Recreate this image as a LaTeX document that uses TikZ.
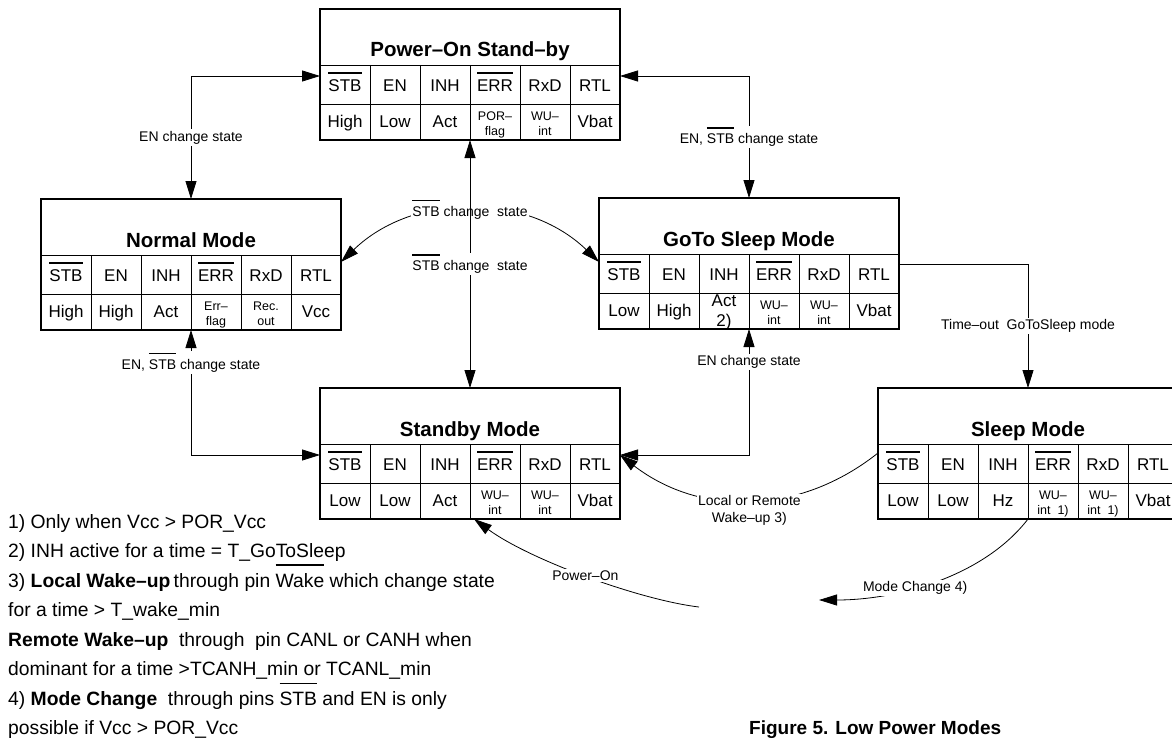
\documentclass[tikz,border=0pt]{standalone}
\usepackage{fontspec}
\setmainfont{Liberation Sans}
\usetikzlibrary{calc, arrows.meta}

% bar over a signal name
\newsavebox{\ovlbox}
\newcommand{\ovl}[1]{\sbox{\ovlbox}{#1}\rlap{\rule[\dimexpr\ht\ovlbox+0.38em\relax]{\wd\ovlbox}{0.08em}}#1}
% two-line cell entries (small / normal)
\newcommand{\sm}[2]{{\fontsize{12.5}{15}\selectfont\begin{tabular}{@{}c@{}}#1\\#2\end{tabular}}}
\newcommand{\tw}[2]{{\begin{tabular}{@{}c@{}}#1\\#2\end{tabular}}}

\tikzset{
    modebox/.style={draw, line width=1.1pt, minimum width=300pt, minimum height=131pt, inner sep=0pt, outer sep=0pt},
    gridline/.style={line width=0.9pt},
    modetitle/.style={font=\fontsize{20.5}{24}\selectfont\bfseries, anchor=base, inner sep=0pt},
    celltext/.style={font=\fontsize{17}{20}\selectfont, text height=12.5pt, text depth=3.6pt, inner sep=0pt},
    conn/.style={line width=0.8pt},
    translabel/.style={font=\fontsize{14}{17}\selectfont, fill=white, inner sep=1.5pt, align=center},
    notes/.style={font=\fontsize{19.3}{29.5}\selectfont, align=left, inner sep=0pt},
    figcaption/.style={font=\fontsize{19}{23}\selectfont\bfseries, inner sep=0pt},
    >={Triangle[length=18pt,width=11pt]}
}

% #1 name, #2 centre, #3 title, #4-#9 second row
\newcommand{\drawmode}[9]{%
    \node[modebox] (#1) at (#2) {};
    \draw[gridline] ($(#1.north west)+(0,-56)$) -- ($(#1.north east)+(0,-56)$);
    \draw[gridline] ($(#1.north west)+(0,-95)$) -- ($(#1.north east)+(0,-95)$);
    \foreach \i in {1,...,5}
        \draw[gridline] ($(#1.north west)+(50*\i,-56)$) -- ($(#1.south west)+(50*\i,0)$);
    \node[modetitle] at ($(#1.north)+(0,-48)$) {#3};
    \foreach \lbl [count=\i] in {\ovl{STB},EN,INH,\ovl{ERR},RxD,RTL}
        \node[celltext] at ($(#1.north west)+(50*\i-25,-78.5)$) {\lbl};
    \foreach \val [count=\i] in {#4,#5,#6,#7,#8,#9}
        \node[celltext] at ($(#1.north west)+(50*\i-25,-114.5)$) {\val};
}

\begin{document}
\begin{tikzpicture}[x=1pt, y=1pt]
    \useasboundingbox (0,0) rectangle (1172,-741);

    % The five modes
    \drawmode{pwr}{470,-74.5}{Power--On Stand--by}{High}{Low}{Act}{\sm{POR--}{flag}}{\sm{WU--}{int}}{Vbat}
    \drawmode{norm}{191,-264.5}{Normal Mode}{High}{High}{Act}{\sm{Err--}{flag}}{\sm{Rec.}{out}}{Vcc}
    \drawmode{gts}{749,-263.5}{GoTo Sleep Mode}{Low}{High}{\tw{Act}{2)}}{\sm{WU--}{int}}{\sm{WU--}{int}}{Vbat}
    \drawmode{stby}{470,-453.5}{Standby Mode}{Low}{Low}{Act}{\sm{WU--}{int}}{\sm{WU--}{int}}{Vbat}
    \drawmode{slp}{1028,-453.5}{Sleep Mode}{Low}{Low}{Hz}{\sm{WU--}{int~~1)}}{\sm{WU--}{int~~1)}}{Vbat}

    % Where the connectors meet the boxes
    \coordinate (pwrW) at ($(pwr.north west)+(0,-67)$);
    \coordinate (pwrE) at ($(pwr.north east)+(0,-67)$);
    \coordinate (normE) at ($(norm.north east)+(0,-63)$);
    \coordinate (gtsW) at ($(gts.north west)+(0,-64)$);
    \coordinate (gtsE) at ($(gts.north east)+(0,-66)$);
    \coordinate (stbyW) at ($(stby.north west)+(0,-67)$);
    \coordinate (stbyE) at ($(stby.north east)+(0,-67)$);
    \coordinate (stbyS) at ($(stby.south)+(4,0)$);
    \coordinate (slpW) at ($(slp.north west)+(0,-65)$);
    \coordinate (ponstart) at (699,-607);
    \coordinate (mcend) at (819,-600);

    % Transitions
    \draw[conn, <->] (norm.north) |- node[translabel, pos=0.25] {EN change state} (pwrW);
    \draw[conn, <->] (pwrE) -| node[translabel, pos=0.75] {EN, \ovl{STB} change state} (gts.north);
    \draw[conn, <->] (normE) to[bend left=44] node[translabel] {\ovl{STB} change\ \ state} (gtsW);
    \draw[conn, <->] (pwr.south) -- node[translabel] {\ovl{STB} change\ \ state} (stby.north);
    \draw[conn, <->] (norm.south) |- node[translabel, pos=0.13] {EN, \ovl{STB} change state} (stbyW);
    \draw[conn, <->] (gts.south) |- node[translabel, pos=0.13] {EN change state} (stbyE);
    \draw[conn, ->] (gtsE) -| node[translabel, pos=0.75] {Time--out\ \ GoToSleep mode} (slp.north);
    \draw[conn, ->] (slpW) to[bend left=38] node[translabel, yshift=-10pt] {Local or Remote\\Wake--up 3)} (stbyE);
    \draw[conn, ->] (ponstart) .. controls (640,-600) and (530,-560) .. node[translabel] {Power--On} (stbyS);
    \draw[conn, ->] (slp.south) .. controls (985,-575) and (900,-600) .. node[translabel, pos=0.6] {Mode Change 4)} (mcend);

    % Notes and caption
    \node[notes, anchor=north west] (notes) at (8,-514) {1) Only when Vcc > POR\_Vcc\\
        2) INH active for a time = T\_GoToSleep\\
        3) \textbf{Local Wake--up}\,through pin \ovl{Wake} which change state\\
        for a time > T\_wake\_min\\
        \textbf{Remote Wake--up}\ \ through\ \ pin CANL or CANH when\\
        dominant for a time >TCANH\_min or TCANL\_min\\
        4) \textbf{Mode Change}\ \ through pins \ovl{STB} and EN is only\\
        possible if Vcc > POR\_Vcc};
    \node[figcaption, anchor=base west] (caption) at (749,-734.5) {Figure 5. Low Power Modes};

\end{tikzpicture}
\end{document}
